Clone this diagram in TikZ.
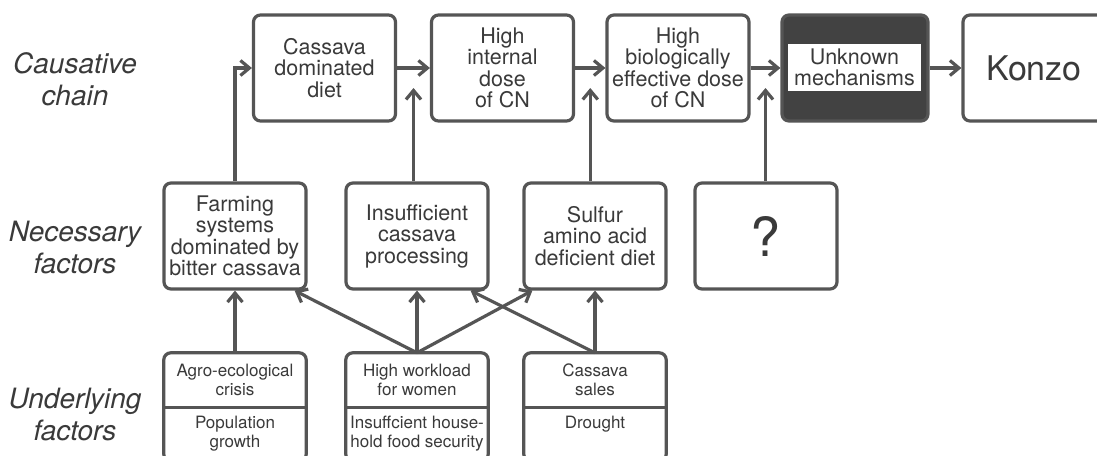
\documentclass[tikz,border=0pt]{standalone}
\usepackage{fontspec}
\setmainfont{TeX Gyre Heros}
\usepackage{xcolor}
\usepackage{tikz}
\usetikzlibrary{arrows.meta, calc}
\definecolor{linegray}{RGB}{85, 85, 85}
\definecolor{textgray}{RGB}{58, 58, 58}
\definecolor{darkfill}{RGB}{66, 66, 66}

\newcommand{\rowfont}{\fontsize{28}{32}\selectfont\itshape}
\newcommand{\chainfont}{\fontsize{21.5}{21.5}\selectfont}
\newcommand{\basefont}{\fontsize{17}{19}\selectfont}
\newcommand{\konzofont}{\fontsize{34}{36}\selectfont}
\newcommand{\askfont}{\fontsize{54}{54}\selectfont}

\begin{document}
\begin{tikzpicture}[x=1pt, y=-1pt,
    box/.style={draw=linegray, line width=3.2pt, rounded corners=7pt, minimum width=142pt, minimum height=106pt, inner sep=0pt, align=center, text=textgray, font=\chainfont},
    half/.style={minimum width=142pt, minimum height=54pt, inner sep=0pt, align=center, text=textgray, font=\basefont},
    frame/.style={draw=linegray, line width=3.2pt, rounded corners=7pt},
    rowlabel/.style={align=center, text=textgray, font=\rowfont},
    arr/.style={draw=linegray, line width=3.2pt, -{Straight Barb[length=9pt, width=15pt]}}]
    \useasboundingbox (0,0) rectangle (1097,455);
    \clip (0,0) rectangle (1097,455);
    \fill[white] (0,0) rectangle (1097,455);

    % Row labels
    \node[rowlabel] (causlbl) at (75,79) {Causative\\chain};
    \node[rowlabel] (neclbl) at (75,247.5) {Necessary\\factors};
    \node[rowlabel] (undlbl) at (75,414) {Underlying\\factors};

    % Causative chain
    \node[box] (diet) at (324.5,68) {Cassava\\dominated\\diet};
    \node[box] (dose) at (502.5,68) {High\\internal\\dose\\of CN};
    \node[box] (effect) at (678,68) {High\\biologically\\effective dose\\of CN};
    \node[box, fill=darkfill, minimum width=146pt] (mech) at (855,68) {};
    \node[fill=white, minimum width=133pt, minimum height=47pt, inner sep=0pt, align=center, text=textgray, font=\chainfont] (mechtext) at (854.5,67.5) {Unknown\\mechanisms};
    \node[box, font=\konzofont] (konzo) at (1034,68) {Konzo};

    % Necessary factors
    \node[box] (farm) at (235,236) {Farming\\systems\\dominated by\\bitter cassava};
    \node[box] (proc) at (417,236) {Insufficient\\cassava\\processing};
    \node[box] (sulfur) at (595,236) {Sulfur\\amino acid\\deficient diet};
    \node[box, font=\askfont] (unknown) at (766,236) {?};

    % Underlying factors
    \node[half] (agro) at (235,380) {Agro-ecological\\crisis};
    \node[half] (popgrow) at (235,434) {Population\\growth};
    \node[half] (work) at (417,380) {High workload\\for women};
    \node[half] (foodsec) at (417,434) {Insuffcient house-\\hold food security};
    \node[half] (sales) at (595,380) {Cassava\\sales};
    \node[half] (drought) at (595,434) {Drought\\\phantom{g}};
    \foreach \up/\low in {agro/popgrow, work/foodsec, sales/drought} {
        \draw[frame] (\up.north west) rectangle (\low.south east);
        \draw[linegray, line width=3.2pt] (\up.south west) -- (\up.south east);
    }

    % Chain arrows
    \draw[arr] (farm.north) |- (diet.west);
    \foreach \a/\b in {diet/dose, dose/effect, effect/mech, mech/konzo}
        \draw[arr] (\a.east) -- (\b.west);
    \foreach \a/\b/\c in {proc/diet/dose, sulfur/dose/effect, unknown/effect/mech} {
        \coordinate (gap) at ($(\b.east)!0.5!(\c.west)$);
        \draw[arr] (\a.north -| gap) -- ($(gap)+(0,20)$);
    }

    % Underlying to necessary
    \draw[arr] (agro.north) -- (farm.south);
    \draw[arr] (work.north) -- ([xshift=-13pt]farm.south east);
    \draw[arr] (work.north) -- (proc.south);
    \draw[arr] (work.north) -- ([xshift=10pt]sulfur.south west);
    \draw[arr] (sales.north) -- ([xshift=-19pt]proc.south east);
    \draw[arr] (sales.north) -- (sulfur.south);
\end{tikzpicture}
\end{document}
